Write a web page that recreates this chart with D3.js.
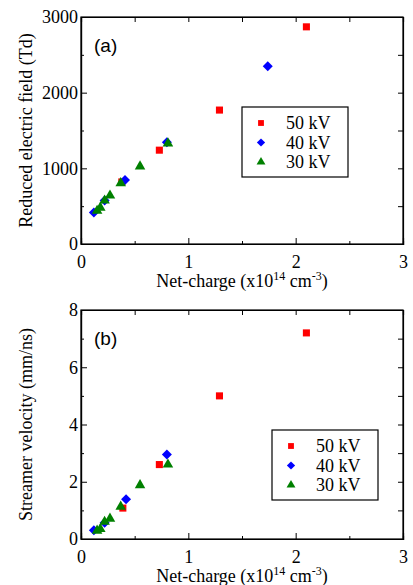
<!DOCTYPE html>
<meta charset="utf-8">
<style>
    body { margin: 0; background: #fff; }
    svg { display: block; }
</style>
<svg width="413" height="585"></svg>
<script src="https://d3js.org/d3.v7.min.js"></script>
<script>

    var series = ["50 kV", "40 kV", "30 kV"];
    var colors = ["#ff0000", "#0000ff", "#008000"];

    // panel (a): reduced electric field vs net-charge
    var fieldX50 = [2.10, 1.29, 0.73, 0.38];
    var fieldY50 = [2870, 1770, 1240, 820];
    var fieldX40 = [1.74, 0.80, 0.41, 0.22, 0.12];
    var fieldY40 = [2350, 1345, 845, 575, 415];
    var fieldX30 = [0.81, 0.55, 0.37, 0.27, 0.22, 0.18, 0.15];
    var fieldY30 = [1330, 1025, 805, 640, 575, 480, 440];

    // panel (b): streamer velocity vs net-charge
    var velX50 = [2.10, 1.29, 0.73, 0.39];
    var velY50 = [7.2, 5.0, 2.6, 1.08];
    var velX40 = [0.80, 0.42, 0.22, 0.12];
    var velY40 = [2.95, 1.39, 0.57, 0.31];
    var velX30 = [0.81, 0.55, 0.37, 0.27, 0.22, 0.18, 0.15];
    var velY30 = [2.6, 1.88, 1.13, 0.71, 0.6, 0.35, 0.29];

    var xTicks = [0, 1, 2, 3];
    var fieldTicks = [0, 1000, 2000, 3000];
    var velTicks = [0, 2, 4, 6, 8];

    var serif = "'Liberation Serif', 'Times New Roman', serif";
    var sans = "'Liberation Sans', Arial, sans-serif";

    var svg = d3.select("svg");

    // square, diamond (rotated square), triangle
    var symbols = [
        { sym: d3.symbol().type(d3.symbolSquare).size(50), rot: 0 },
        { sym: d3.symbol().type(d3.symbolSquare).size(50), rot: 45 },
        { sym: d3.symbol().type(d3.symbolTriangle).size(48), rot: 0 }
    ];
    var legendSymbols = [
        { sym: d3.symbol().type(d3.symbolSquare).size(34), rot: 0 },
        { sym: d3.symbol().type(d3.symbolSquare).size(34), rot: 45 },
        { sym: d3.symbol().type(d3.symbolTriangle).size(34), rot: 0 }
    ];

    function zip(xs, ys) {
        return xs.map(function (d, i) { return [d, ys[i]]; });
    }

    function panel(opt) {
        var x = d3.scaleLinear().domain([0, 3]).range([81, 403]);
        var y = d3.scaleLinear().domain(opt.domain).range([opt.bottom, opt.top]);
        var g = svg.append("g");

        var xMinor = [0.5, 1.5, 2.5];
        var yMinor = d3.range(opt.domain[0] + opt.minor, opt.domain[1], opt.minor * 2);

        // inward ticks on all four sides
        g.append("g").attr("transform", "translate(0," + opt.bottom + ")")
            .call(d3.axisBottom(x).tickValues(xTicks).tickSize(-6).tickPadding(11).tickFormat(d3.format("d")));
        g.append("g").attr("transform", "translate(0," + opt.bottom + ")")
            .call(d3.axisBottom(x).tickValues(xMinor).tickSize(-3).tickFormat(""));
        g.append("g").attr("transform", "translate(0," + opt.top + ")")
            .call(d3.axisTop(x).tickValues(xTicks.concat(xMinor)).tickSize(-5).tickFormat(""));
        g.append("g").attr("transform", "translate(81,0)")
            .call(d3.axisLeft(y).tickValues(opt.ticks).tickSize(-6).tickPadding(3).tickFormat(d3.format("d")));
        g.append("g").attr("transform", "translate(81,0)")
            .call(d3.axisLeft(y).tickValues(yMinor).tickSize(-3).tickFormat(""));
        g.append("g").attr("transform", "translate(403,0)")
            .call(d3.axisRight(y).tickValues(opt.ticks.concat(yMinor)).tickSize(-5).tickFormat(""));

        g.selectAll(".domain").attr("stroke", "#000").attr("stroke-width", 1.2);
        g.selectAll(".tick line").attr("stroke", "#000");
        g.selectAll(".tick text")
            .style("font-family", serif).style("font-size", "18px").attr("fill", "#000");

        g.append("rect")
            .attr("x", 81).attr("y", opt.top)
            .attr("width", 322).attr("height", opt.bottom - opt.top)
            .attr("fill", "none").attr("stroke", "#000").attr("stroke-width", 1.2);

        opt.data.forEach(function (pts, k) {
            g.append("g").selectAll("path")
                .data(pts)
                .join("path")
                .attr("transform", function (d) {
                    return "translate(" + x(d[0]) + "," + y(d[1]) + ") rotate(" + symbols[k].rot + ")";
                })
                .attr("d", symbols[k].sym)
                .attr("fill", colors[k]);
        });

        g.append("text")
            .style("font-family", sans).style("font-size", "19px")
            .attr("x", 94).attr("y", opt.top + 35)
            .text(opt.tag);

        var xl = g.append("text")
            .style("font-family", serif).style("font-size", "18px")
            .attr("x", 242).attr("y", opt.bottom + 43)
            .attr("text-anchor", "middle");
        xl.append("tspan").text("Net-charge (x10");
        xl.append("tspan").attr("dy", -7).style("font-size", "12px").text("14");
        xl.append("tspan").attr("dy", 7).text(" cm");
        xl.append("tspan").attr("dy", -7).style("font-size", "12px").text("-3");
        xl.append("tspan").attr("dy", 7).text(")");

        g.append("text")
            .style("font-family", serif).style("font-size", "18px")
            .attr("transform", "translate(32," + ((opt.top + opt.bottom) / 2) + ") rotate(-90)")
            .attr("text-anchor", "middle")
            .text(opt.ylabel);

        var lg = g.append("g").attr("transform", "translate(" + opt.legend[0] + "," + opt.legend[1] + ")");
        lg.append("rect").attr("width", 106).attr("height", 70)
            .attr("fill", "#fff").attr("stroke", "#000").attr("stroke-width", 1.2);
        series.forEach(function (s, k) {
            var yy = 16 + k * 19.5;
            lg.append("path")
                .attr("transform", "translate(19," + yy + ") rotate(" + legendSymbols[k].rot + ")")
                .attr("d", legendSymbols[k].sym).attr("fill", colors[k]);
            lg.append("text")
                .style("font-family", serif).style("font-size", "18px")
                .attr("x", 44).attr("y", yy + 6).text(s);
        });
    }

    panel({
        top: 17, bottom: 244, domain: [0, 3000], ticks: fieldTicks, minor: 500,
        tag: "(a)", ylabel: "Reduced electric field (Td)", legend: [242, 107],
        data: [zip(fieldX50, fieldY50), zip(fieldX40, fieldY40), zip(fieldX30, fieldY30)]
    });

    panel({
        top: 310, bottom: 539, domain: [0, 8], ticks: velTicks, minor: 1,
        tag: "(b)", ylabel: "Streamer velocity (mm/ns)", legend: [272, 430],
        data: [zip(velX50, velY50), zip(velX40, velY40), zip(velX30, velY30)]
    });

</script>
